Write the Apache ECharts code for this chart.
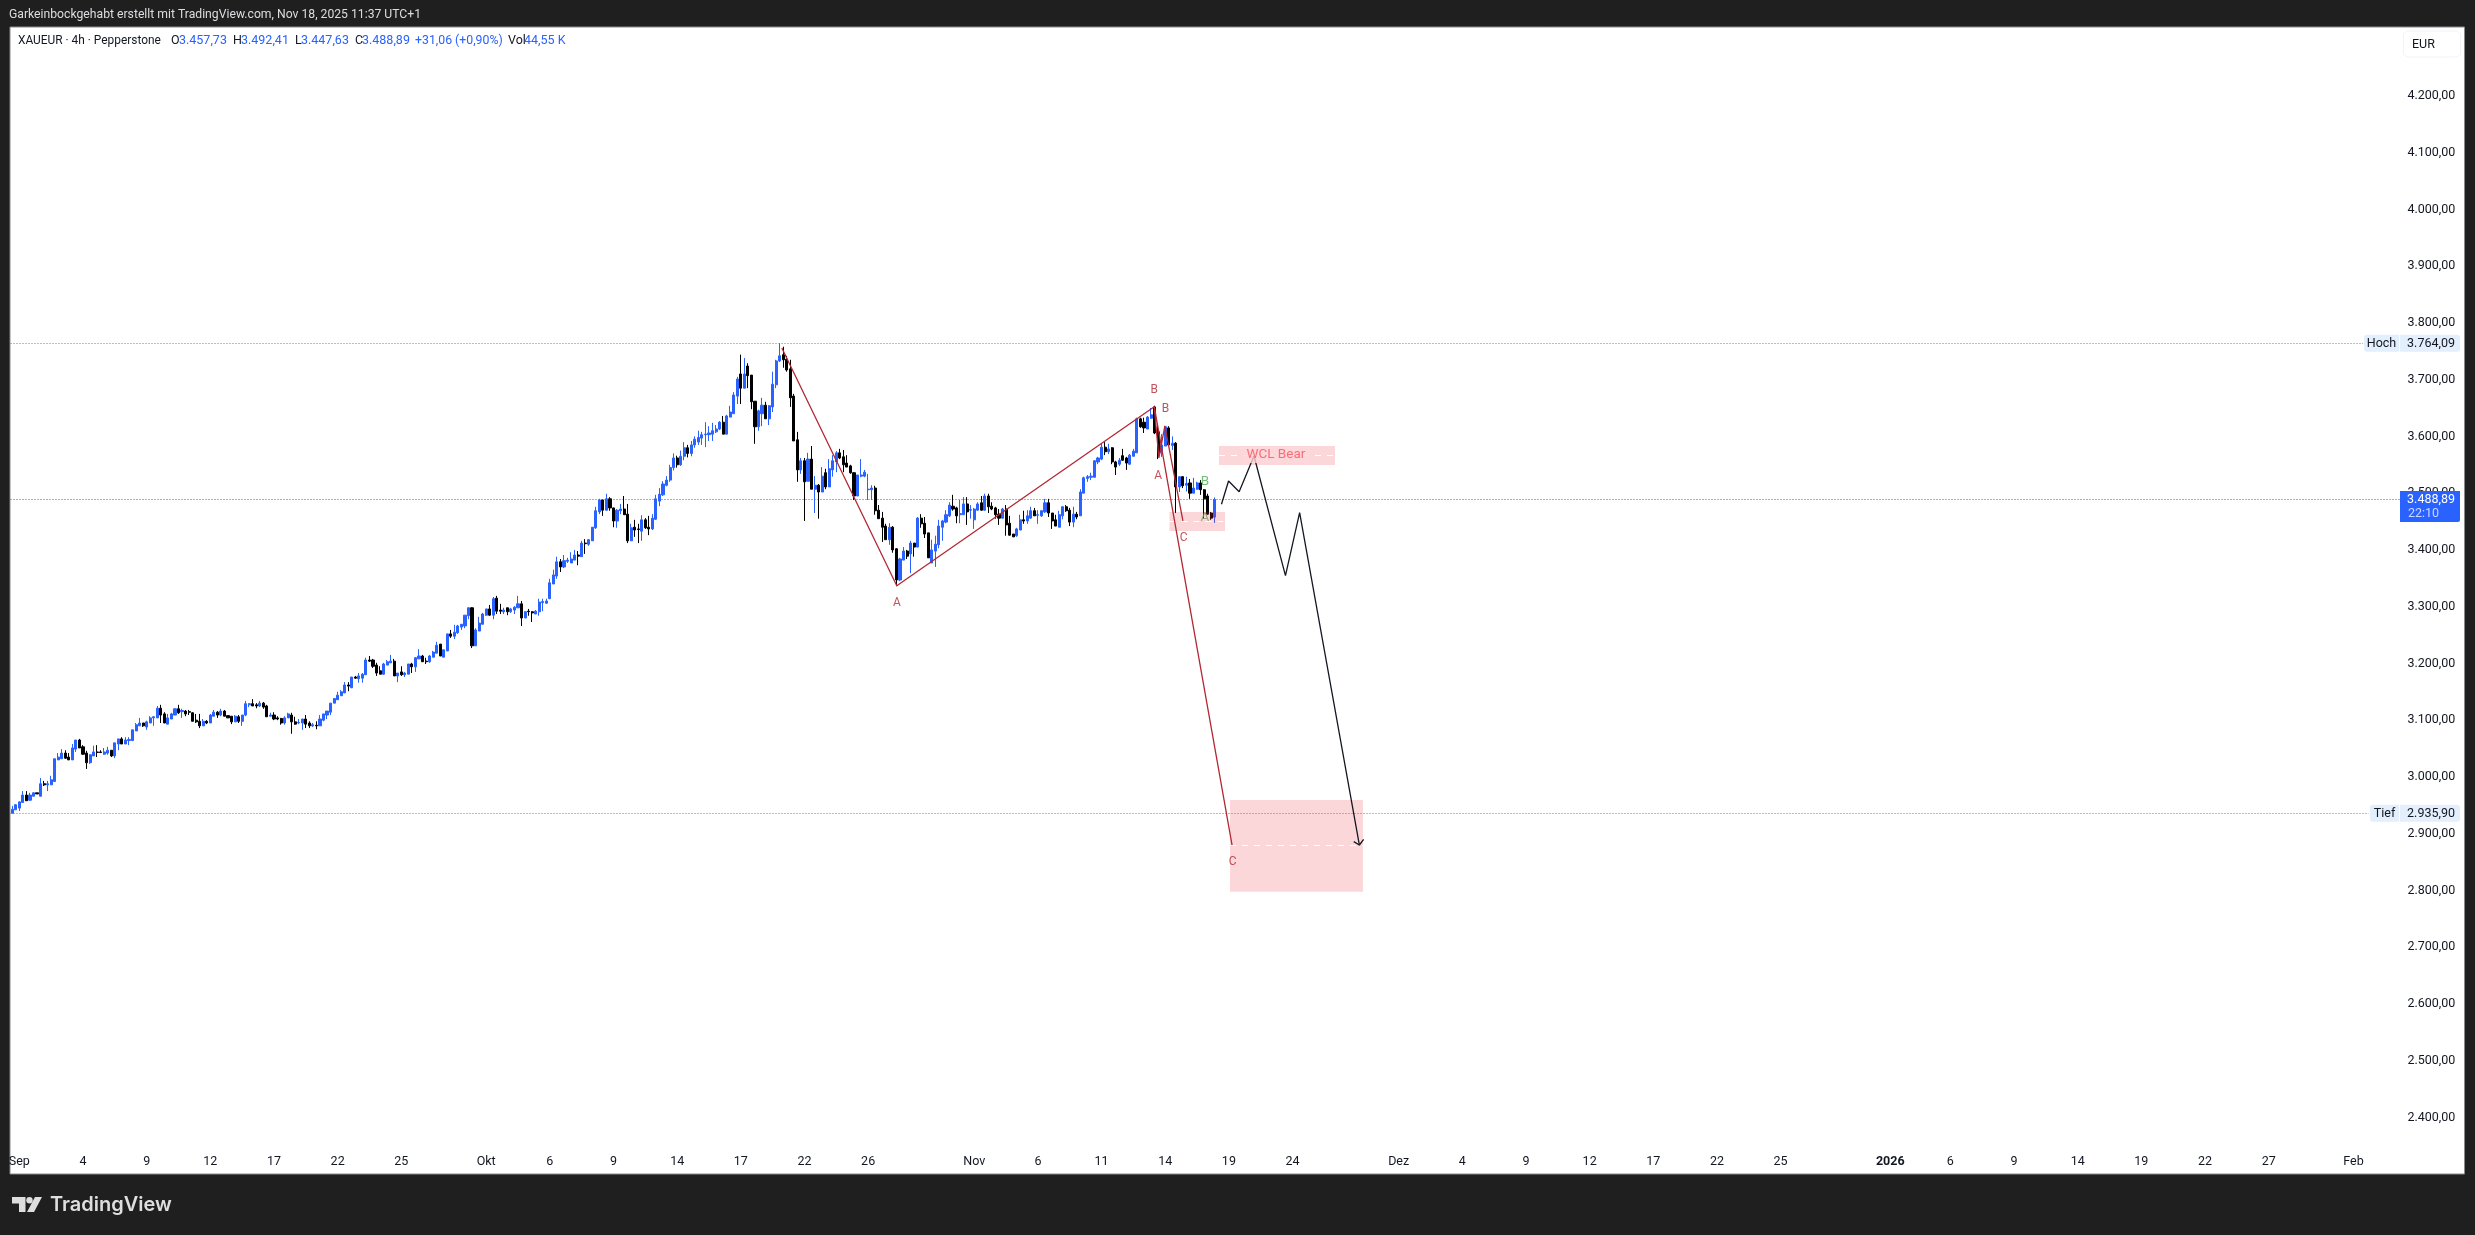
<!DOCTYPE html>
<html>
<head>
<meta charset="utf-8">
<title>XAUEUR 4h</title>
<style>
  html, body { margin: 0; padding: 0; background: #1f1f1f; }
  #chart { width: 2475px; height: 1235px; }
</style>
<script src="https://cdn.jsdelivr.net/npm/echarts@6/dist/echarts.min.js"></script>
</head>
<body>
<div id="chart"></div>
<script>
// 4h candles
const opens = [
  2936,2942,2945,2955,2968,2959,2966,2972,2966,2988,
  2986,2986,2992,3030,3032,3042,3035,3030,3049,3065,
  3053,3042,3025,3037,3044,3044,3040,3042,3047,3037,
  3058,3067,3058,3064,3064,3081,3090,3095,3088,3095,
  3104,3104,3121,3111,3093,3102,3109,3120,3115,3116,
  3115,3113,3100,3098,3090,3098,3095,3107,3114,3109,
  3116,3108,3107,3097,3106,3098,3109,3127,3129,3127,
  3125,3130,3125,3107,3109,3104,3103,3095,3104,3109,
  3097,3095,3095,3102,3095,3090,3091,3090,3100,3109,
  3114,3130,3136,3143,3148,3162,3157,3176,3173,3174,
  3180,3206,3206,3197,3187,3181,3197,3201,3204,3178,
  3185,3180,3181,3199,3194,3208,3213,3204,3203,3211,
  3218,3234,3211,3222,3252,3248,3254,3264,3266,3284,
  3298,3231,3257,3269,3285,3296,3285,3315,3294,3291,
  3298,3291,3294,3298,3305,3280,3292,3291,3287,3291,
  3307,3306,3314,3340,3354,3379,3370,3380,3377,3382,
  3391,3388,3412,3410,3416,3439,3467,3488,3470,3490,
  3474,3451,3469,3472,3463,3416,3440,3437,3433,3453,
  3440,3437,3454,3486,3497,3514,3523,3545,3562,3550,
  3565,3580,3570,3585,3590,3597,3603,3603,3604,3608,
  3613,3625,3604,3634,3640,3671,3710,3685,3724,3708,
  3662,3617,3640,3655,3631,3652,3691,3733,3744,3736,
  3719,3671,3594,3541,3557,3521,3560,3507,3514,3502,
  3536,3511,3541,3555,3571,3564,3553,3548,3536,3495,
  3530,3530,3506,3506,3509,3470,3456,3442,3418,3440,
  3402,3347,3382,3398,3393,3412,3405,3456,3447,3430,
  3377,3398,3409,3440,3449,3460,3477,3474,3462,3462,
  3481,3470,3453,3470,3483,3470,3495,3477,3474,3463,
  3456,3472,3447,3428,3425,3435,3453,3451,3456,3469,
  3461,3460,3467,3483,3465,3453,3440,3460,3476,3470,
  3449,3463,3460,3500,3526,3528,3528,3555,3560,3581,
  3573,3580,3555,3551,3566,3562,3551,3565,3571,3631,
  3625,3613,3632,3652,3608,3571,3583,3615,3584,3588,
  3511,3529,3514,3518,3500,3507,3518,3506,3495,3465,3457.73
];
const highs = [
  2949,2952,2957,2975,2975,2972,2973,2972,2998,2993,
  2993,3002,3032,3042,3049,3047,3042,3058,3065,3067,
  3056,3046,3040,3055,3056,3047,3051,3053,3047,3060,
  3067,3070,3070,3070,3083,3095,3104,3095,3099,3107,
  3107,3125,3127,3114,3111,3113,3121,3127,3120,3118,
  3118,3114,3111,3111,3102,3100,3111,3118,3116,3120,
  3118,3108,3107,3109,3109,3109,3134,3130,3137,3130,
  3134,3132,3127,3113,3114,3107,3104,3107,3113,3113,
  3106,3102,3102,3109,3098,3095,3098,3109,3111,3116,
  3130,3139,3150,3153,3167,3167,3176,3178,3183,3183,
  3210,3213,3208,3201,3195,3201,3206,3215,3208,3183,
  3195,3185,3199,3201,3211,3225,3215,3210,3215,3222,
  3238,3234,3224,3252,3259,3268,3268,3269,3285,3299,
  3299,3262,3282,3289,3296,3303,3317,3319,3305,3298,
  3298,3298,3301,3319,3310,3292,3296,3292,3294,3314,
  3314,3314,3349,3365,3388,3384,3391,3386,3396,3400,
  3398,3416,3419,3419,3440,3476,3490,3488,3499,3493,
  3474,3472,3481,3495,3481,3446,3453,3446,3461,3456,
  3460,3463,3497,3509,3521,3530,3550,3570,3566,3575,
  3590,3585,3592,3600,3610,3608,3625,3618,3624,3620,
  3627,3636,3638,3654,3678,3705,3744,3738,3729,3708,
  3662,3647,3668,3661,3655,3714,3735,3764.09,3758,3742,
  3735,3675,3608,3562,3562,3571,3583,3530,3516,3546,
  3543,3560,3567,3574,3578,3576,3567,3550,3537,3532,
  3560,3541,3534,3514,3513,3479,3467,3446,3447,3442,
  3403,3386,3405,3400,3416,3412,3458,3463,3458,3430,
  3418,3425,3453,3453,3470,3484,3497,3476,3488,3493,
  3493,3479,3474,3484,3495,3499,3499,3484,3476,3472,
  3474,3479,3460,3428,3439,3462,3469,3470,3476,3474,
  3470,3470,3490,3490,3465,3462,3469,3477,3479,3474,
  3476,3467,3507,3529,3532,3536,3558,3564,3587,3590,
  3587,3581,3557,3562,3578,3564,3569,3578,3633,3633,
  3633,3636,3650,3654,3620,3604,3618,3618,3600,3590,
  3529,3530,3529,3525,3527,3520,3523,3507,3499,3467,3492.41
];
const lows = [
  2935.9,2942,2940,2955,2958,2958,2966,2970,2966,2984,
  2975,2986,2991,3030,3032,3032,3030,3030,3044,3051,
  3039,3014,3023,3037,3035,3042,3039,3039,3035,3033,
  3047,3058,3058,3056,3064,3081,3090,3088,3083,3095,
  3090,3104,3095,3095,3093,3102,3109,3111,3104,3107,
  3109,3098,3095,3086,3090,3093,3095,3107,3104,3107,
  3107,3104,3093,3097,3095,3090,3107,3123,3125,3121,
  3123,3120,3106,3107,3100,3100,3092,3092,3104,3076,
  3092,3093,3083,3086,3086,3088,3084,3090,3098,3102,
  3109,3130,3136,3143,3148,3151,3157,3173,3166,3166,
  3180,3203,3192,3178,3181,3180,3197,3201,3178,3167,
  3178,3176,3181,3183,3185,3208,3203,3199,3201,3211,
  3218,3213,3211,3222,3245,3243,3252,3259,3262,3278,
  3227,3231,3257,3269,3284,3284,3278,3287,3287,3287,
  3285,3289,3287,3298,3266,3280,3284,3273,3287,3284,
  3292,3306,3314,3340,3349,3361,3368,3377,3377,3382,
  3373,3388,3393,3407,3416,3437,3463,3460,3469,3469,
  3440,3439,3463,3462,3412,3416,3423,3412,3416,3437,
  3426,3435,3453,3477,3495,3512,3520,3540,3545,3548,
  3558,3563,3565,3580,3585,3585,3581,3592,3592,3606,
  3611,3604,3604,3634,3640,3657,3657,3685,3685,3648,
  3587,3610,3618,3631,3620,3643,3685,3731,3721,3714,
  3652,3592,3520,3534,3451,3521,3507,3465,3455,3502,
  3507,3511,3529,3537,3560,3537,3546,3534,3488,3495,
  3528,3528,3488,3488,3462,3455,3414,3418,3409,3395,
  3336,3345,3382,3384,3359,3388,3405,3439,3421,3386,
  3377,3370,3403,3416,3447,3458,3469,3447,3447,3462,
  3444,3455,3437,3470,3469,3469,3465,3470,3455,3444,
  3455,3425,3425,3423,3423,3435,3446,3446,3455,3460,
  3446,3458,3465,3458,3437,3442,3440,3454,3467,3442,
  3440,3454,3460,3500,3520,3523,3528,3551,3558,3567,
  3569,3551,3532,3548,3557,3541,3550,3565,3571,3615,
  3606,3613,3631,3604,3560,3564,3583,3583,3576,3465,
  3502,3509,3503,3490,3500,3506,3497,3455,3462,3453,3447.63
];
const closes = [
  2943,2951,2956,2968,2958,2968,2972,2970,2988,2986,
  2988,2995,3032,3035,3042,3033,3030,3051,3065,3051,
  3040,3025,3039,3044,3043,3043,3044,3047,3037,3060,
  3067,3058,3065,3066,3083,3092,3095,3090,3097,3104,
  3106,3121,3109,3095,3104,3111,3120,3113,3117,3111,
  3114,3098,3097,3090,3098,3095,3109,3114,3109,3116,
  3107,3104,3097,3107,3098,3109,3129,3129,3125,3125,
  3130,3123,3106,3109,3102,3102,3095,3104,3111,3097,
  3093,3096,3102,3093,3090,3092,3090,3102,3111,3116,
  3130,3138,3144,3150,3162,3160,3176,3174,3178,3181,
  3206,3204,3195,3183,3181,3199,3203,3204,3178,3183,
  3180,3183,3199,3194,3210,3213,3203,3203,3213,3220,
  3232,3213,3224,3252,3248,3255,3266,3269,3285,3298,
  3231,3259,3271,3287,3296,3285,3314,3292,3292,3294,
  3291,3296,3299,3305,3280,3291,3291,3289,3292,3308,
  3309,3310,3342,3356,3379,3370,3381,3382,3384,3391,
  3389,3412,3411,3418,3440,3469,3488,3470,3490,3474,
  3451,3470,3472,3462,3416,3439,3435,3436,3453,3439,
  3437,3456,3490,3498,3516,3523,3545,3562,3550,3565,
  3580,3570,3585,3595,3598,3603,3604,3606,3610,3613,
  3625,3604,3636,3643,3673,3701,3685,3710,3707,3661,
  3617,3645,3655,3631,3654,3692,3733,3742,3735,3717,
  3668,3592,3541,3557,3520,3560,3507,3514,3502,3530,
  3511,3543,3557,3571,3562,3550,3546,3536,3495,3532,
  3532,3537,3507,3509,3469,3455,3440,3418,3440,3400,
  3347,3384,3398,3389,3412,3405,3456,3446,3428,3386,
  3400,3410,3442,3451,3462,3479,3472,3460,3464,3481,
  3467,3471,3472,3481,3470,3495,3476,3472,3462,3456,
  3472,3444,3426,3423,3437,3453,3451,3460,3469,3460,
  3462,3469,3483,3465,3451,3442,3462,3476,3469,3449,
  3463,3458,3502,3527,3529,3530,3557,3562,3581,3573,
  3578,3555,3546,3558,3558,3553,3567,3574,3631,3617,
  3615,3634,3638,3606,3571,3585,3617,3585,3588,3511,
  3529,3513,3517,3500,3509,3518,3506,3490,3463,3456,3488.89
];

// time axis: slot count and the labelled slots
const slotCount = 676;
const tickSlots = [2,20,38,56,74,92,110,134,152,170,188,206,224,242,272,290,308,326,344,362,392,410,428,446,464,482,500,531,548,566,584,602,620,638,662];
const tickLabels = ['Sep','4','9','12','17','22','25','Okt','6','9','14','17','22','26','Nov','6','11','14','19','24','Dez','4','9','12','17','22','25','2026','6','9','14','19','22','27','Feb'];

// price axis
const priceTicks = [2400,2500,2600,2700,2800,2900,3000,3100,3200,3300,3400,3500,3600,3700,3800,3900,4000,4100,4200];
const priceMin = 2300.3;
const priceMax = 4321.4;
const hochPrice = 3764.09;
const tiefPrice = 2935.90;
const lastPrice = 3488.89;

// drawings, [slot, price]
const redWave = [[217.6,3755.8],[250.1,3336.9],[322.9,3652.4],[344.9,2880]];
const redSmallWave = [[322.9,3652.4],[324.2,3562],[325.9,3618.4],[331,3451]];
const forecastPath = [[341.9,3480.4],[343.9,3521.5],[346.9,3502.6],[351.1,3565.5],[360,3354.6],[364,3465.6],[380.9,2880]];
const forecastArrow = [[379.3,2885.9],[380.9,2880],[382.1,2890]];
// [slot from, slot to, top, middle, bottom]
const zones = [
  [341.2,374,3583.1,3567.3,3549.6],
  [327.2,342.9,3466.8,3450.4,3433.4],
  [344.3,381.9,2959.3,2879.5,2797.8]
];
// [price, last slot, colour]
const priceLines = [
  [hochPrice, 664.7, '#787b86'],
  [tiefPrice, 666.3, '#787b86'],
  [lastPrice, 675.5, '#2962ff']
];
const redLabels = [[250.1,3306,'A'],[322.9,3681.8,'B'],[326.1,3648.3,'B'],[324,3530.3,'A'],[331.2,3420.5,'C'],[345.1,2850,'C']];
const greenLabels = [[337.2,3519.7,'B']];
const oliveLabels = [[337.2,3456.8,'A']];
const zoneLabels = [[357.3,3567.3,'WCL Bear']];

const FONT = 'Roboto, "Noto Sans", sans-serif';
const fmtPrice = v => v.toLocaleString('de-DE', { minimumFractionDigits: 2, maximumFractionDigits: 2 });

const categories = [];
for (let i = 0; i < slotCount; i++) {
  const k = tickSlots.indexOf(i);
  categories.push(k >= 0 ? tickLabels[k] : '');
}
const candles = opens.map((o, i) => [o, closes[i], lows[i], highs[i]]);

function pathSeries(data, color, width) {
  return {
    type: 'line', xAxisIndex: 1, data, showSymbol: false, silent: true, z: 5,
    lineStyle: { color, width }
  };
}
function labelSeries(data, color, size, extra) {
  return {
    type: 'scatter', xAxisIndex: 1, data, symbolSize: 0, silent: true, z: 7,
    label: Object.assign({ show: true, position: 'inside', formatter: p => p.value[2], color, fontSize: size, fontFamily: FONT }, extra)
  };
}

const chart = echarts.init(document.getElementById('chart'), null, { renderer: 'canvas' });

const legendBits = [
  ['XAUEUR · 4h · Pepperstone', 18, '#131722', 11.9],
  ['O', 171, '#131722', 12.5], ['3.457,73', 179, '#2962ff', 12.5],
  ['H', 233, '#131722', 12.5], ['3.492,41', 241, '#2962ff', 12.5],
  ['L', 295, '#131722', 12.5], ['3.447,63', 301, '#2962ff', 12.5],
  ['C', 355, '#131722', 12.5], ['3.488,89', 362, '#2962ff', 12.5],
  ['+31,06 (+0,90%)', 415, '#2962ff', 12.3],
  ['Vol', 508, '#131722', 12.5], ['44,55 K', 524, '#2962ff', 12.5]
];

const baseGraphic = [
  { type: 'rect', z: -10, shape: { x: 10, y: 27, width: 2454.5, height: 1147 }, style: { fill: '#ffffff', stroke: '#8a8a8a', lineWidth: 1 } },
  { type: 'text', x: 9, y: 15, style: { text: 'Garkeinbockgehabt erstellt mit TradingView.com, Nov 18, 2025 11:37 UTC+1', fill: '#dcdde0', font: '12.2px ' + FONT, verticalAlign: 'middle' } },
  { type: 'rect', z: 20, shape: { x: 2403.5, y: 31, width: 57, height: 26, r: 5 }, style: { fill: '#ffffff', stroke: '#f0f3fa', lineWidth: 1 } },
  { type: 'text', z: 21, x: 2412, y: 44.5, style: { text: 'EUR', fill: '#131722', font: '12.5px ' + FONT, verticalAlign: 'middle' } },
  // TradingView logo
  { type: 'polygon', shape: { points: [[12,1197],[25.5,1197],[25.5,1212],[19,1212],[19,1203.5],[12,1203.5]] }, style: { fill: '#dedede' } },
  { type: 'circle', shape: { cx: 29.5, cy: 1200.2, r: 3.2 }, style: { fill: '#dedede' } },
  { type: 'polygon', shape: { points: [[35,1197],[42,1197],[34,1212],[27,1212]] }, style: { fill: '#dedede' } },
  { type: 'text', x: 50, y: 1205, style: { text: 'TradingView', fill: '#dedede', font: '600 20px Inter, ' + FONT, verticalAlign: 'middle' } }
].concat(legendBits.map(b => ({
  type: 'text', x: b[1], y: 41, z: 21,
  style: { text: b[0], fill: b[2], font: b[3] + 'px ' + FONT, verticalAlign: 'middle' }
})));

chart.setOption({
  animation: false,
  backgroundColor: '#1f1f1f',
  grid: { left: 10.5, top: 27, width: 2390.8, height: 1147 },
  xAxis: [
    {
      type: 'category', data: categories, boundaryGap: true,
      axisLine: { show: false }, axisTick: { show: false }, splitLine: { show: false },
      axisLabel: {
        inside: true, interval: 0, margin: 6, color: '#131722', fontSize: 12.5, fontFamily: FONT,
        formatter: v => v === '2026' ? '{b|2026}' : v,
        rich: { b: { fontWeight: 'bold', fontSize: 12.5, fontFamily: FONT, color: '#131722' } }
      }
    },
    { type: 'value', min: -0.5, max: slotCount - 0.5, show: false }
  ],
  yAxis: {
    type: 'value', position: 'right', min: priceMin, max: priceMax, scale: true,
    axisLine: { show: false }, axisTick: { show: false }, splitLine: { show: false },
    axisLabel: {
      customValues: priceTicks, align: 'right', margin: 54, color: '#131722', fontSize: 12.5, fontFamily: FONT,
      formatter: v => fmtPrice(v)
    }
  },
  series: [
    {
      // dotted price lines, snapped to whole pixels so the dots stay sharp
      type: 'custom', xAxisIndex: 1, z: 1, silent: true, data: priceLines,
      encode: { x: 1, y: 0 },
      renderItem: (params, api) => {
        const a = api.coord([-0.5, api.value(0)]);
        const b = api.coord([api.value(1), api.value(0)]);
        const y = Math.round(a[1]) + 0.5;
        return {
          type: 'line', shape: { x1: a[0], y1: y, x2: b[0], y2: y },
          style: { stroke: priceLines[params.dataIndex][2], lineWidth: 1, lineDash: [1, 2] }
        };
      }
    },
    {
      type: 'candlestick', data: candles, barWidth: 2.6, z: 3,
      itemStyle: { color: '#2962ff', color0: '#000000', borderColor: '#2962ff', borderColor0: '#000000', borderColorDoji: '#2962ff', borderWidth: 1 }
    },
    {
      type: 'custom', xAxisIndex: 1, z: 4, silent: true, data: zones,
      encode: { x: [0, 1], y: [2, 3, 4] },
      renderItem: (params, api) => {
        const a = api.coord([api.value(0), api.value(2)]);
        const b = api.coord([api.value(1), api.value(4)]);
        const y = Math.round(api.coord([api.value(0), api.value(3)])[1]) + 0.5;
        return {
          type: 'group',
          children: [
            { type: 'rect', shape: { x: a[0], y: a[1], width: b[0] - a[0], height: b[1] - a[1] }, style: { fill: 'rgba(242,54,69,0.2)' } },
            { type: 'line', shape: { x1: a[0], y1: y, x2: b[0], y2: y }, style: { stroke: '#ffffff', lineWidth: 1, lineDash: [6, 6] } }
          ]
        };
      }
    },
    pathSeries(redWave, '#b22833', 1.3),
    pathSeries(redSmallWave, '#b22833', 1.3),
    pathSeries(forecastPath, '#131722', 1.3),
    pathSeries(forecastArrow, '#131722', 1.3),
    labelSeries(redLabels, '#b22833', 12),
    labelSeries(greenLabels, '#4caf50', 13.5),
    labelSeries(oliveLabels, '#7f9e6c', 13.5),
    labelSeries(zoneLabels, '#f7525f', 13.5, { backgroundColor: '#fcd7da', padding: [1, 4] })
  ],
  graphic: baseGraphic
});

// price tags on the right scale
const yOf = p => chart.convertToPixel({ yAxisIndex: 0 }, p);
function tagGraphic(name, price, leftX) {
  const y = yOf(price);
  return [
    { type: 'rect', z: 20, shape: { x: leftX, y: y - 8.5, width: 2399.2 - leftX, height: 17, r: [3, 0, 0, 3] }, style: { fill: '#e3effd' } },
    { type: 'rect', z: 20, shape: { x: 2400, y: y - 8.5, width: 60, height: 17, r: [0, 3, 3, 0] }, style: { fill: '#e3effd' } },
    { type: 'text', z: 21, x: (leftX + 2399) / 2, y: y + 0.5, style: { text: name, fill: '#131722', font: '12.5px ' + FONT, align: 'center', verticalAlign: 'middle' } },
    { type: 'text', z: 21, x: 2455, y: y + 0.5, style: { text: fmtPrice(price), fill: '#131722', font: '12.5px ' + FONT, align: 'right', verticalAlign: 'middle' } }
  ];
}
const lastY = yOf(lastPrice);
chart.setOption({
  graphic: baseGraphic.concat(
    tagGraphic('Hoch', hochPrice, 2364),
    tagGraphic('Tief', tiefPrice, 2370),
    [
      { type: 'rect', z: 20, shape: { x: 2400, y: lastY - 8.5, width: 60, height: 31, r: [0, 0, 2, 0] }, style: { fill: '#2962ff' } },
      { type: 'text', z: 21, x: 2455, y: lastY, style: { text: fmtPrice(lastPrice), fill: '#ffffff', font: '12.5px ' + FONT, align: 'right', verticalAlign: 'middle' } },
      { type: 'text', z: 21, x: 2408, y: lastY + 14, style: { text: '22:10', fill: '#c9d6ff', font: '12.5px ' + FONT, verticalAlign: 'middle' } }
    ]
  )
});
</script>
</body>
</html>
